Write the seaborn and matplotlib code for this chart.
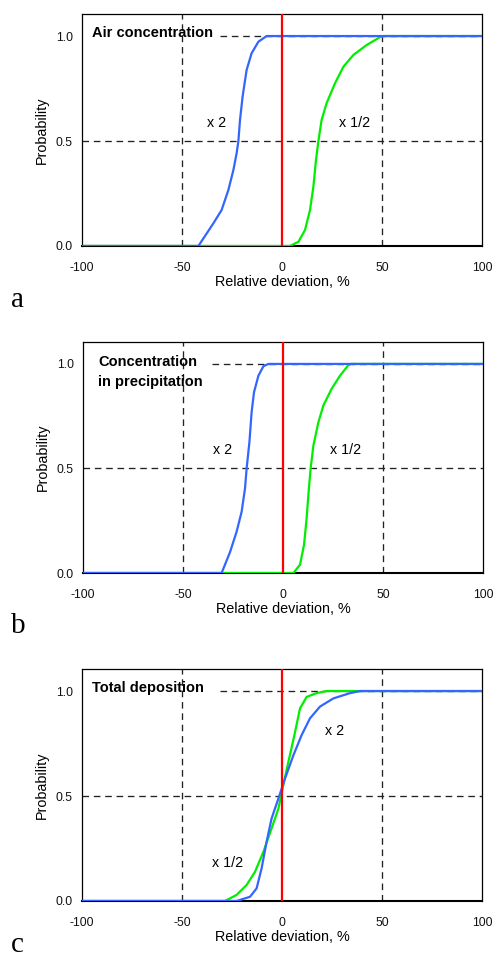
import numpy as np
import pandas as pd
import matplotlib
matplotlib.use("Agg")
import matplotlib.pyplot as plt
import seaborn as sns

# --- data ---
# panel a: air concentration
a_x2_x = [-100, -41.8, -39.3, -34.3, -30.2, -26.8, -24.3, -22.7, -21.8, -21, -19.7, -17.7, -15.2, -11.8, -7.7, 100]
a_x2_y = [0, 0, 0.036, 0.108, 0.171, 0.267, 0.362, 0.441, 0.5, 0.6, 0.711, 0.838, 0.918, 0.973, 1.0, 1.0]
a_half_x = [-100, 4, 8.2, 11.5, 14, 15.7, 17, 18.2, 19.8, 22.3, 26.5, 30.7, 35.7, 42.3, 49, 51, 100]
a_half_y = [0, 0, 0.02, 0.076, 0.171, 0.283, 0.41, 0.5, 0.6, 0.68, 0.775, 0.854, 0.91, 0.957, 0.995, 1.0, 1.0]

# panel b: concentration in precipitation
b_x2_x = [-100, -30.7, -26.5, -23.2, -20.7, -19, -18.2, -16.8, -15.7, -14.5, -12.3, -9.8, -7.3, 100]
b_x2_y = [0, 0, 0.10, 0.198, 0.293, 0.405, 0.5, 0.627, 0.77, 0.865, 0.944, 0.989, 1.0, 1.0]
b_half_x = [-100, 5.2, 8.5, 10.5, 11.8, 12.8, 13.8, 15.2, 17.7, 20.2, 24.3, 28.5, 32.7, 34, 100]
b_half_y = [0, 0, 0.04, 0.135, 0.262, 0.389, 0.5, 0.611, 0.722, 0.802, 0.881, 0.944, 0.995, 1.0, 1.0]

# panel c: total deposition
c_x2_x = [-100, -22.7, -16, -12.7, -10.2, -7.7, -5.2, -1.8, 1.5, 5.7, 9.8, 14, 19, 25.7, 34, 39, 100]
c_x2_y = [0, 0, 0.02, 0.06, 0.155, 0.282, 0.393, 0.488, 0.583, 0.694, 0.79, 0.87, 0.926, 0.965, 0.99, 1.0, 1.0]
c_half_x = [-100, -28.5, -22.7, -17.7, -13.5, -9.3, -5.2, -1.8, 0.3, 3.2, 6.2, 9, 12.3, 17.3, 22.3, 100]
c_half_y = [0, 0, 0.029, 0.076, 0.139, 0.234, 0.346, 0.44, 0.536, 0.663, 0.79, 0.917, 0.972, 0.99, 1.0, 1.0]

titles = ["Air concentration", "Concentration\nin precipitation", "Total deposition"]
letters = ["a", "b", "c"]
x_ticks = [-100, -50, 0, 50, 100]
y_ticks = [0.0, 0.5, 1.0]

BLUE = "#3366ff"
GREEN = "#00ee00"
RED = "#ff0000"

sns.set_style("white")
plt.rcParams["font.family"] = ["Liberation Sans", "DejaVu Sans"]
plt.rcParams["text.color"] = "black"
plt.rcParams["axes.labelcolor"] = "black"

fig = plt.figure(figsize=(4.93, 9.59), dpi=100)

# axes boxes (left, bottom, width, height) in figure fractions
boxes = [
    [0.1663, 0.7435, 0.8114, 0.2419],
    [0.1684, 0.4025, 0.8114, 0.2409],
    [0.1663, 0.0605, 0.8114, 0.2419],
]
series = [
    (a_x2_x, a_x2_y, a_half_x, a_half_y),
    (b_x2_x, b_x2_y, b_half_x, b_half_y),
    (c_x2_x, c_x2_y, c_half_x, c_half_y),
]
# label positions (x 2, x 1/2), title anchor and where the 1.0 line starts
lab_pos = [
    ((-37.5, 0.586), (28.5, 0.586)),
    ((-35, 0.59), (23.5, 0.59)),
    ((21.5, 0.81), (-35, 0.18)),
]
title_pos = [(-95, 1.014), (-92.5, 0.962), (-95, 1.014)]
hline_start = [-31, -35.5, -31]
letter_y = [0.680, 0.340, 0.001]
letter_va = ["baseline", "baseline", "bottom"]

for i, box in enumerate(boxes):
    ax = fig.add_axes(box)
    x2x, x2y, hx, hy = series[i]

    dash = (0, (5, 3.6))
    for xv in [-50, 50]:
        ax.axvline(xv, color="#222222", lw=0.95, ls=dash, zorder=1)
    ax.axhline(0.5, color="#222222", lw=0.95, ls=dash, zorder=1)
    ax.plot([hline_start[i], 100], [1.0, 1.0], color="#222222", lw=0.95, ls=dash, zorder=1)

    sns.lineplot(x=hx, y=hy, color=GREEN, lw=1.6, ax=ax, zorder=3)
    sns.lineplot(x=x2x, y=x2y, color=BLUE, lw=1.6, ax=ax, zorder=4)
    ax.axvline(0, color=RED, lw=1.6, zorder=5)

    ax.set_xlim(-100, 100)
    ax.set_ylim(0, 1.105)
    ax.set_xticks(x_ticks)
    ax.set_yticks(y_ticks)
    ax.set_xticklabels([str(t) for t in x_ticks])
    ax.set_yticklabels([f"{t:.1f}" for t in y_ticks])
    ax.tick_params(axis="both", direction="inout", length=5, width=0.8,
                   labelsize=8.8, color="#333333", labelcolor="#111111")
    ax.tick_params(axis="x", pad=9)
    ax.tick_params(axis="y", pad=4)
    ax.set_xlabel("Relative deviation, %", fontsize=10.4, labelpad=1)
    ax.set_ylabel("Probability", fontsize=10.4, labelpad=5)

    for s in ax.spines.values():
        s.set_color("black")
        s.set_linewidth(0.9)
        s.set_zorder(2)
    ax.spines["bottom"].set_linewidth(1.5)

    tx, ty = title_pos[i]
    ax.text(tx, ty, titles[i], fontsize=10.5, fontweight="bold",
            va="center", ha="left", linespacing=1.5)
    (l1x, l1y), (l2x, l2y) = lab_pos[i]
    ax.text(l1x, l1y, "x 2", fontsize=10.3, va="center", ha="left")
    ax.text(l2x, l2y, "x 1/2", fontsize=10.3, va="center", ha="left")

    fig.text(0.022, letter_y[i], letters[i], fontsize=21,
             family=["Liberation Serif", "DejaVu Serif"], va=letter_va[i], ha="left")

fig.savefig("out.png", dpi=100)
